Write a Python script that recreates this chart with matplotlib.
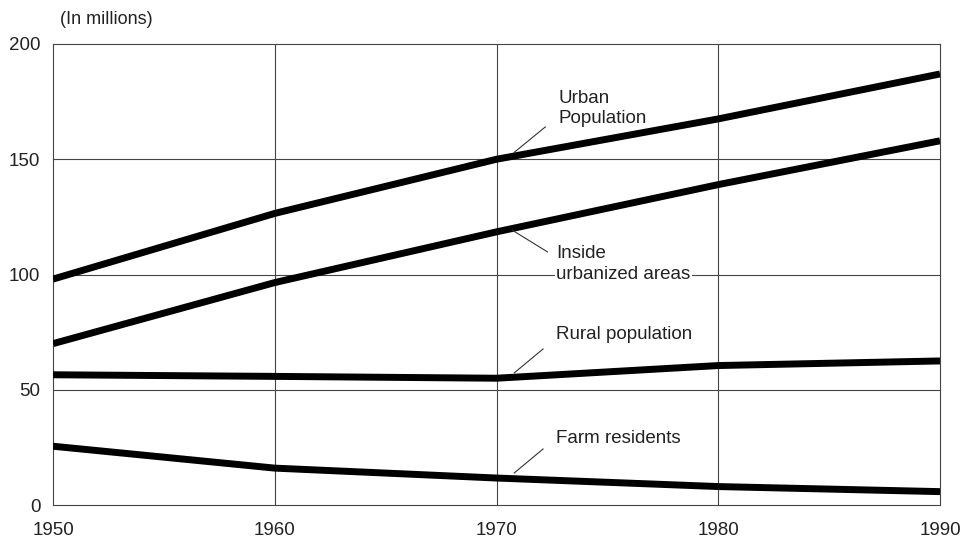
import matplotlib.pyplot as plt

# Population urbaine / rurale 1950-1990 (en millions)
years = [1950, 1960, 1970, 1980, 1990]
urban = [98, 126.5, 150, 167.5, 187]
urbanized = [70, 96.5, 118.5, 139, 158]
rural = [56.5, 55.8, 55, 60.5, 62.5]
farm = [25.5, 16, 11.7, 8, 5.8]

x_ticks = [1950, 1960, 1970, 1980, 1990]
y_ticks = [0, 50, 100, 150, 200]

plt.rcParams['font.family'] = ['Liberation Sans', 'DejaVu Sans']

fig = plt.figure(figsize=(9.6, 5.38), dpi=100)
ax = fig.add_axes([53/960, 1 - 505/538, 887/960, 461/538])

grid_col = '#444444'
for x in x_ticks:
    ax.axvline(x, color=grid_col, lw=0.8, zorder=1, clip_on=False)
for y in y_ticks:
    ax.axhline(y, color=grid_col, lw=0.8, zorder=1, clip_on=False)

for serie in [urban, urbanized, rural, farm]:
    ax.plot(years, serie, color='black', lw=5, solid_capstyle='butt', zorder=3)

ax.set_xlim(1950, 1990)
ax.set_ylim(0, 200)
ax.set_xticks(x_ticks)
ax.set_yticks(y_ticks)
ax.tick_params(length=0, labelsize=13.5, colors='#222222')
ax.tick_params(axis='x', pad=12)
ax.tick_params(axis='y', pad=9)
for s in ax.spines.values():
    s.set_visible(False)

# Etiquettes avec traits de rappel
labels = [
    ("Urban\nPopulation", 1972.8, 172, (1972.2, 164), (1970.8, 153)),
    ("Inside\nurbanized areas", 1972.7, 104.6, (1972.3, 109.8), (1970.7, 119.3)),
    ("Rural population", 1972.7, 73.8, (1972.1, 67.7), (1970.8, 57.3)),
    ("Farm residents", 1972.7, 29, (1972.1, 24.3), (1970.8, 13.9)),
]
for txt, tx, ty, p0, p1 in labels:
    ax.text(tx, ty, txt, ha='left', va='center', fontsize=13.5, color='#222222',
            linespacing=1.25, zorder=4,
            bbox=dict(facecolor='white', edgecolor='none', pad=1))
    ax.plot([p0[0], p1[0]], [p0[1], p1[1]], color='#333333', lw=0.8, zorder=4)

fig.text(60/960, 1 - 20/538, "(In millions)", ha='left', va='center',
         fontsize=13, color='#222222')

fig.savefig('out.png', dpi=100)
